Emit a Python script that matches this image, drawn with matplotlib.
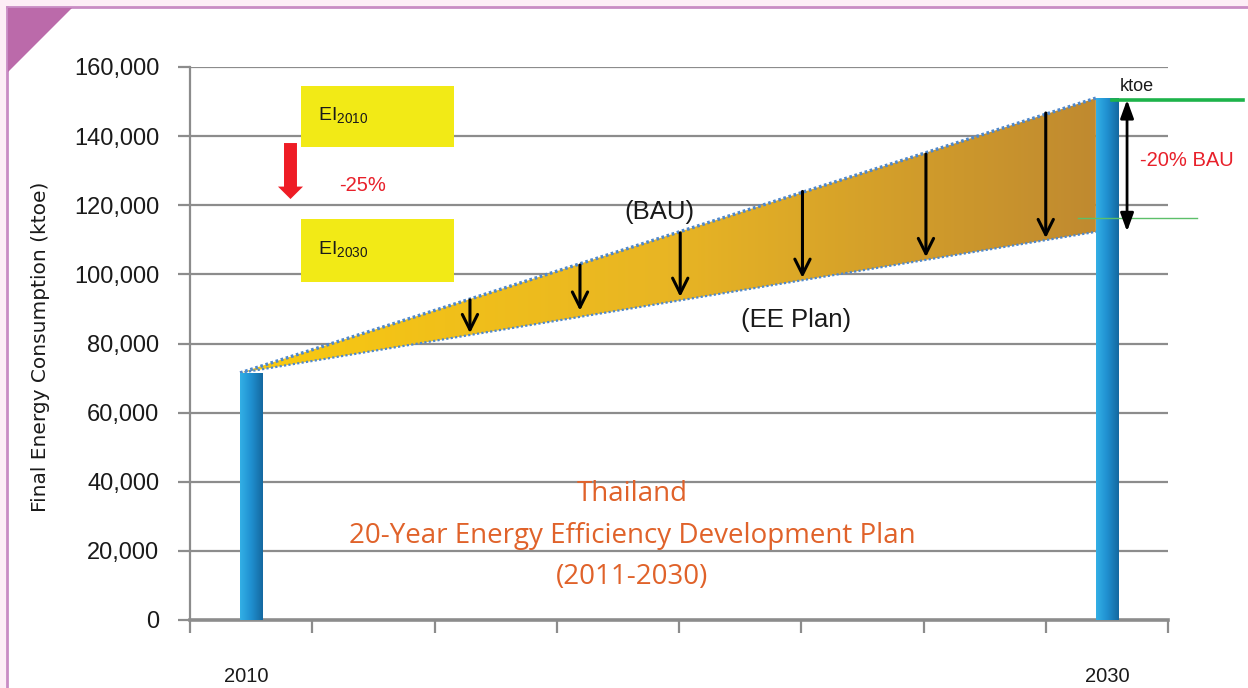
import numpy as np
import matplotlib
matplotlib.use("Agg")
import matplotlib.pyplot as plt
from matplotlib.patches import Polygon, Rectangle, FancyArrow
from matplotlib.colors import LinearSegmentedColormap
from matplotlib.ticker import FuncFormatter

# ---------------- data ----------------
years = ["2010", "2030"]
bar_pos = [0.5, 7.5]
bar_values = [71500, 151000]

line_x = [0.41, 7.41]
bau_values = [71500, 151000]
ee_values = [71500, 112300]

arrow_x = [2.29, 3.19, 4.01, 5.01, 6.02, 7.00]
arrow_top = [92600, 102700, 112000, 124000, 134800, 146700]
arrow_tip = [83000, 89500, 93500, 99000, 105000, 110500]

bau_target = 150500
ee_target = 112400

yticks = [0, 20000, 40000, 60000, 80000, 100000, 120000, 140000, 160000]

plt.rcParams['font.family'] = ['Liberation Sans', 'DejaVu Sans']

fig = plt.figure(figsize=(12.48, 6.88), dpi=100)
W, H = 1248, 688

def fx(px):
    return px / W
def fy(py):
    return 1 - py / H

# frame background
fig.patch.set_facecolor('white')
fig.patches.append(Rectangle((0, fy(7)), 1, 1 - fy(7), transform=fig.transFigure,
                             facecolor='#fdeef6', edgecolor='none', zorder=-2))
fig.patches.append(Rectangle((0, 0), fx(7), 1, transform=fig.transFigure,
                             facecolor='#fdeef6', edgecolor='none', zorder=-2))
fig.lines.append(plt.Line2D([fx(7), 1], [fy(7), fy(7)], transform=fig.transFigure,
                            color='#c98cc4', lw=2, zorder=-1))
fig.lines.append(plt.Line2D([fx(7), fx(7)], [0, fy(7)], transform=fig.transFigure,
                            color='#c98cc4', lw=2, zorder=-1))
fig.patches.append(Polygon([(fx(8), fy(8)), (fx(72), fy(8)), (fx(8), fy(72))], closed=True,
                           transform=fig.transFigure, facecolor='#bb6aaa', edgecolor='none',
                           zorder=-1))

ax = fig.add_axes([fx(190), fy(620), fx(1168) - fx(190), fy(67) - fy(620)])
ax.set_facecolor('none')
ax.set_xlim(0, 8)
ax.set_ylim(0, 160000)

grid_c = '#8c8c8c'
for v in yticks[1:]:
    ax.axhline(v, color=grid_c, lw=1.6, zorder=1)

for s in ['top', 'right']:
    ax.spines[s].set_visible(False)
ax.spines['left'].set_color(grid_c)
ax.spines['left'].set_linewidth(1.6)
ax.spines['bottom'].set_color(grid_c)
ax.spines['bottom'].set_linewidth(2.6)

ax.set_yticks(yticks)
ax.yaxis.set_major_formatter(FuncFormatter(lambda v, p: f"{int(v):,}"))
ax.tick_params(axis='y', direction='out', length=9, width=1.6, color=grid_c,
               labelsize=17, labelcolor='#1a1a1a', pad=13)
ax.set_xticks(np.arange(0, 9))
ax.set_xticklabels([])
ax.tick_params(axis='x', direction='out', length=9, width=1.6, color=grid_c)

# gradient polygon (BAU vs EE)
poly_pts = [(line_x[0], bau_values[0]), (line_x[1], bau_values[1]),
            (line_x[1], ee_values[1]), (line_x[0], ee_values[0])]
poly = Polygon(poly_pts, closed=True, facecolor='none', edgecolor='none')
ax.add_patch(poly)
cmap_poly = LinearSegmentedColormap.from_list('p', ['#f9ca10', '#e8b524', '#c08a30'])
grad = np.linspace(0, 1, 256).reshape(1, -1)
im = ax.imshow(grad, cmap=cmap_poly, aspect='auto',
               extent=[line_x[0], line_x[1], ee_values[0] - 1000, bau_values[1] + 1000],
               zorder=2, interpolation='bilinear')
im.set_clip_path(poly)

ax.plot(line_x, bau_values, color='#4f88cc', lw=2.4, ls=(0, (0.8, 0.8)), zorder=3)
ax.plot(line_x, ee_values, color='#4f88cc', lw=1.6, ls=(0, (1, 1)), zorder=3)

# bars with gradient
cmap_bar = LinearSegmentedColormap.from_list('b', ['#33b0e6', '#1f8fcf', '#14689f'])
bw = 0.18
bars = ax.bar(bar_pos, bar_values, width=bw, color='none', edgecolor='none', zorder=4)
for b, x, v in zip(bars, bar_pos, bar_values):
    imb = ax.imshow(grad, cmap=cmap_bar, aspect='auto',
                    extent=[x - bw / 2, x + bw / 2, 0, v], zorder=4, interpolation='bilinear')
    imb.set_clip_path(b)

ax.set_xlim(0, 8)
ax.set_ylim(0, 160000)

# down arrows
for x, t, b in zip(arrow_x, arrow_top, arrow_tip):
    ax.annotate('', xy=(x, b), xytext=(x, t),
                arrowprops=dict(arrowstyle='->,head_length=1.1,head_width=0.55', color='black',
                                lw=2.2, shrinkA=0, shrinkB=0), zorder=5)

# green lines and double arrow
ax.plot([7.54, 8.61], [bau_target, bau_target], color='#1db34a', lw=2.6, clip_on=False, zorder=5)
ax.plot([7.26, 8.24], [116300, 116300], color='#5cbf6a', lw=1.0, clip_on=False, zorder=5)
ax.annotate('', xy=(7.665, ee_target), xytext=(7.665, bau_target),
            arrowprops=dict(arrowstyle='<|-|>,head_length=1.1,head_width=0.4', color='black',
                            lw=2.0, shrinkA=0, shrinkB=0), zorder=6, annotation_clip=False)
ax.text(7.745, 154300, 'ktoe', ha='center', va='center', fontsize=13, color='#1a1a1a')
ax.text(8.15, 133000, '-20% BAU', ha='center', va='center', fontsize=14.5, color='#e8202a',
        clip_on=False)

# EI boxes
for y0, y1, lbl, ty in [(136900, 154500, r'EI$_{\mathregular{2010}}$', 145800),
                        (97800, 116000, r'EI$_{\mathregular{2030}}$', 107000)]:
    ax.add_patch(Rectangle((0.908, y0), 2.16 - 0.908, y1 - y0, facecolor='#f2ea16',
                           edgecolor='none', zorder=5))
    ax.text(1.05, ty, lbl, ha='left', va='center', fontsize=14, color='#1a1a1a', zorder=6)

ax.add_patch(FancyArrow(0.822, 138000, 0, -16200, width=0.106, head_width=0.205,
                        head_length=3600, length_includes_head=True,
                        facecolor='#ee1c25', edgecolor='none', zorder=6))
ax.text(1.41, 125600, '-25%', ha='center', va='center', fontsize=14.5, color='#e8202a')

ax.text(3.84, 118000, '(BAU)', ha='center', va='center', fontsize=18.5, color='#1a1a1a', zorder=6)
ax.text(4.96, 86800, '(EE Plan)', ha='center', va='center', fontsize=18.5, color='#1a1a1a', zorder=6)

# center title
orange = '#e0622a'
for txt, yy in [('Thailand', 36500), ('20-Year Energy Efficiency Development Plan', 24400),
                ('(2011-2030)', 12300)]:
    ax.text(3.62, yy, txt, ha='center', va='center', fontsize=20, color=orange,
            family=['Open Sans', 'DejaVu Sans'], zorder=6)

# year labels
for x, lbl in zip(bar_pos, years):
    ax.text(x - 0.04 if lbl == '2010' else x, -16300, lbl, ha='center', va='center',
            fontsize=14.5, color='#1a1a1a', clip_on=False)

# y label
fig.text(fx(41), fy(347), 'Final Energy Consumption (ktoe)', rotation=90, ha='center',
         va='center', fontsize=14.5, color='#1a1a1a', family=['DejaVu Sans'])

fig.savefig('out.png', dpi=100)
